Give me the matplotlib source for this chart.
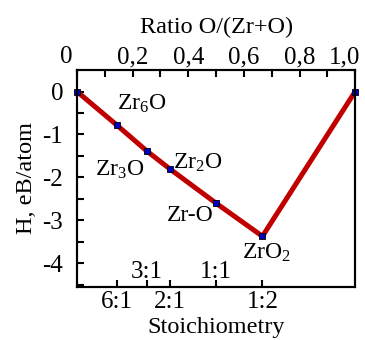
import numpy as np
import matplotlib
matplotlib.use('Agg')
import matplotlib.pyplot as plt
from matplotlib.transforms import ScaledTranslation

plt.rcParams['font.family'] = 'Liberation Serif'
plt.rcParams['mathtext.default'] = 'regular'

# data: ratio O/(Zr+O) and formation enthalpy
ratio = [0.0, 1/7, 0.25, 1/3, 0.5, 2/3, 1.0]
enthalpy = [0.0, -0.78, -1.38, -1.80, -2.60, -3.37, 0.0]

names = ['Zr$_6$O', 'Zr$_3$O', 'Zr$_2$O', 'Zr-O', 'ZrO$_2$']
name_idx = [1, 2, 3, 4, 5]
name_off = [(18, 15), (-19, -14), (20, 4), (-19, -9), (3, -12)]

top_ticks = [0, 0.1, 0.2, 0.3, 0.4, 0.5, 0.6, 0.7, 0.8, 0.9, 1.0]
top_labels = ['0', '', '0,2', '', '0,4', '', '0,6', '', '0,8', '', '1,0']

stoich_pos = [1/7, 0.25, 1/3, 0.5, 2/3]
stoich_labels = ['6:1', '3:1', '2:1', '1:1', '1:2']
stoich_inside = [False, True, False, True, False]

fig = plt.figure(figsize=(3.65, 3.40), dpi=100)
ax = fig.add_axes([0.211, 0.156, 0.762, 0.638])

ax.plot(ratio, enthalpy, color='#c00000', lw=3.6, zorder=2)
ax.plot(ratio, enthalpy, ls='none', marker='s', ms=4.5, mfc='#0000c0',
        mec='black', mew=0.6, zorder=3, clip_on=False)

for n, i, off in zip(names, name_idx, name_off):
    ax.annotate(n, (ratio[i], enthalpy[i]), xytext=off, textcoords='offset points',
                ha='center', va='center', fontsize=17)

ax.set_xlim(0, 1)
ax.set_ylim(-4.55, 0.5)
ax.set_yticks([-4, -3, -2, -1, 0])
ax.set_yticklabels(['-4', '-3', '-2', '-1', '0'])
ax.set_yticks(np.arange(-4.5, 0.5, 0.5), minor=True)
ax.set_ylabel('H, eB/atom', fontsize=17.5, labelpad=4)

ax.set_xticks(stoich_pos)
ax.set_xticklabels(stoich_labels)
ax.set_xlabel('Stoichiometry', fontsize=17.5, labelpad=3)

for sp in ax.spines.values():
    sp.set_linewidth(1.5)

ax.tick_params(axis='both', which='both', direction='in', length=5, width=1.5,
               labelsize=18)
ax.tick_params(axis='y', which='both', pad=10, right=False)
ax.tick_params(axis='x', pad=3, top=False)

# labels 3:1 and 1:1 sit inside the frame
for lab, inside in zip(ax.get_xticklabels(), stoich_inside):
    if inside:
        lab.set_transform(lab.get_transform() + ScaledTranslation(0, 30/100, fig.dpi_scale_trans))

top = ax.twiny()
top.set_xlim(0, 1)
top.set_xticks(top_ticks)
top.set_xticklabels(top_labels)
top.tick_params(axis='x', direction='in', length=5, width=1.5, labelsize=18, pad=1.5)
top.set_xlabel('Ratio O/(Zr+O)', fontsize=17.5, labelpad=9)
for sp in top.spines.values():
    sp.set_linewidth(1.5)

tl = top.get_xticklabels()
for lab in [tl[0], tl[-1]]:
    lab.set_transform(lab.get_transform() + ScaledTranslation(-11/100, 0, fig.dpi_scale_trans))

fig.savefig('out.png', dpi=100)
